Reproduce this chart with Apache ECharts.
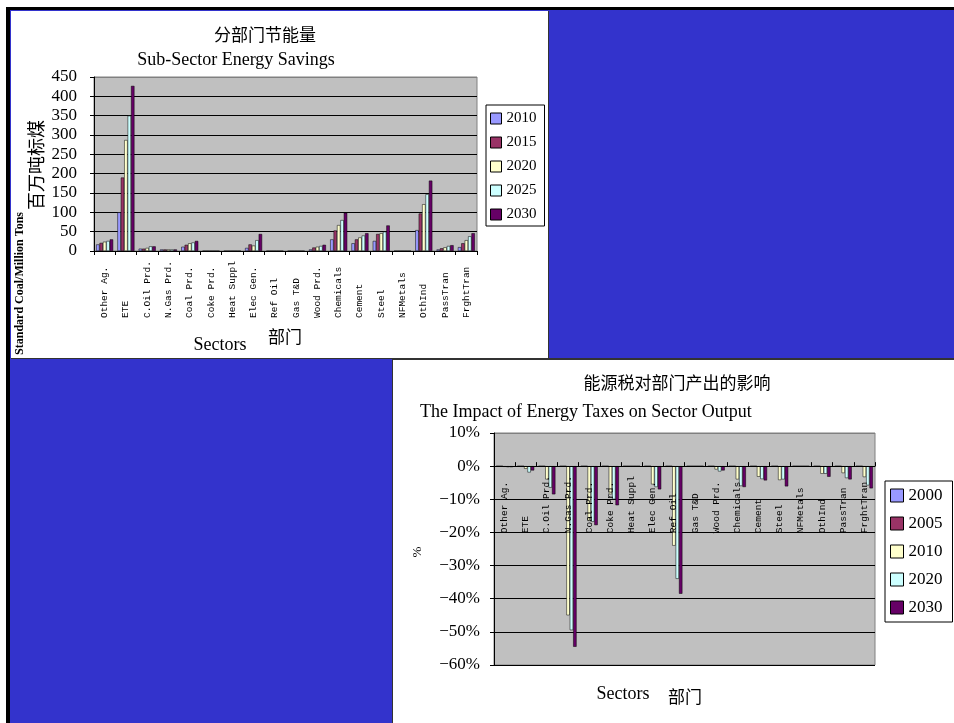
<!DOCTYPE html>
<html>
<head>
<meta charset="utf-8">
<title>分部门节能量 / 能源税对部门产出的影响</title>
<script src="https://cdn.jsdelivr.net/npm/echarts/dist/echarts.min.js"></script>
<style>
  html, body { margin: 0; padding: 0; background: #fff; width: 954px; height: 723px; overflow: hidden; }
  .abs { position: absolute; }
</style>
</head>
<body>
<div class="abs" style="left:6px;top:7px;width:948px;height:716px;background:#000"></div>
<div class="abs" style="left:10px;top:10px;width:944px;height:713px;background:#3333cc"></div>
<div class="abs" style="left:11px;top:11px;width:538px;height:348px;background:#333"></div>
<div id="savings" class="abs" style="left:11px;top:11px;width:537px;height:347px;background:#fff"></div>
<div class="abs" style="left:392px;top:358px;width:562px;height:365px;background:#333"></div>
<div id="impact" class="abs" style="left:393px;top:360px;width:561px;height:363px;background:#fff"></div>

<script>
// ---- shared categories ----
const sectors = ['Other Ag.', 'ETE', 'C.Oil Prd.', 'N.Gas Prd.', 'Coal Prd.', 'Coke Prd.',
  'Heat Suppl', 'Elec Gen.', 'Ref Oil', 'Gas T&D', 'Wood Prd.', 'Chemicals', 'Cement',
  'Steel', 'NFMetals', 'OthInd', 'PassTran', 'FrghtTran'];

// ---- sub-sector energy savings (million tons standard coal) ----
const savingYears = ['2010', '2015', '2020', '2025', '2030'];
const savings2010 = [17, 100, 6, 4, 11, 0, 0, 8, 0, 0, 4, 30, 20, 26, 0, 54, 4, 10];
const savings2015 = [21, 190, 6, 4, 16, 0, 0, 17, 0, 0, 9, 53, 30, 44, 0, 97, 7, 20];
const savings2020 = [24, 287, 8, 4, 20, 0, 0, 14, 0, 0, 11, 67, 35, 46, 0, 121, 9.5, 28];
const savings2025 = [26, 350, 12, 4, 22, 0, 0, 28, 0, 0, 13, 80, 40, 50, 0, 147, 13, 38];
const savings2030 = [30, 427, 12, 4, 26, 0, 0, 44, 0, 0, 16, 99, 46, 66, 0, 182, 15, 46];
const savingTicks = [0, 50, 100, 150, 200, 250, 300, 350, 400, 450];

// ---- impact of energy taxes on sector output (%) ----
const taxYears = ['2000', '2005', '2010', '2020', '2030'];
const impact2000 = [0, 0, 0, 0, 0, 0, 0, 0, 0, 0, 0, 0, 0, 0, 0, 0, 0, 0];
const impact2005 = [0, 0, 0, 0, 0, 0, 0, 0, 0, 0, 0, 0, 0, 0, 0, 0, 0, 0];
const impact2010 = [-0.2, -0.8, -4, -45, -16.5, -8.5, 0, -5.5, -24, 0, -1, -4, -3.2, -4.2, 0, -2.3, -2.1, -3.3];
const impact2020 = [-0.3, -1.9, -6.5, -49.5, -16.8, -10, 0, -6.3, -34, 0, -1.6, -6, -3.9, -4, 0, -2.3, -3.6, -5.8];
const impact2030 = [-0.3, -1.3, -8.5, -54.5, -17.8, -11.8, 0, -7, -38.5, 0, -1.3, -6.3, -4.3, -6.1, 0, -3.2, -4, -6.7];
const impactTicks = [-60, -50, -40, -30, -20, -10, 0, 10];

const palette = ['#9999ff', '#993366', '#ffffcc', '#ccffff', '#660066'];
const SERIF = 'Liberation Serif, Times New Roman, serif';
const MONO = 'Liberation Mono, DejaVu Sans Mono, monospace';
const CJK = 'Noto Sans CJK SC, sans-serif';

function barSeries(names, columns) {
  return names.map((name, i) => ({
    name: name,
    type: 'bar',
    data: columns[i],
    barGap: '0%',
    barCategoryGap: '20%',
    itemStyle: { color: palette[i], borderColor: '#000', borderWidth: 0.5 },
    emphasis: { disabled: true }
  }));
}

function lineColors(n) {
  // black grid lines, top edge gray like the plot border
  const c = [];
  for (let i = 0; i < n; i++) c.push(i === n - 1 ? '#808080' : '#000');
  return c;
}

function sectorAxis(extra) {
  return Object.assign({
    type: 'category',
    data: sectors,
    axisLine: { onZero: false, lineStyle: { color: '#000', width: 1 } },
    axisTick: { show: true, interval: 0, length: 4, lineStyle: { color: '#000' } },
    axisLabel: {
      interval: 0, rotate: 90, align: 'left', verticalAlign: 'middle',
      fontFamily: MONO, fontSize: 9.5, color: '#000', margin: 67
    },
    splitLine: { show: false }
  }, extra || {});
}

// ---------------- Chart 1: energy savings ----------------
const savingsChart = echarts.init(document.getElementById('savings'));
savingsChart.setOption({
  animation: false,
  backgroundColor: '#fff',
  grid: {
    left: 83, top: 66, width: 383, height: 174,
    show: true, backgroundColor: '#c0c0c0', borderColor: '#808080', borderWidth: 1
  },
  legend: {
    data: savingYears,
    orient: 'vertical',
    left: 475, top: 94,
    itemWidth: 11, itemHeight: 11, itemGap: 9,
    icon: 'rect',
    itemStyle: { borderColor: '#000', borderWidth: 1 },
    padding: [6, 8, 4, 4],
    borderColor: '#000', borderWidth: 1,
    backgroundColor: '#fff',
    textStyle: { fontFamily: SERIF, fontSize: 15, color: '#000' },
    selectedMode: false
  },
  xAxis: sectorAxis(),
  yAxis: {
    type: 'value',
    min: savingTicks[0], max: savingTicks[savingTicks.length - 1],
    interval: savingTicks[1] - savingTicks[0],
    axisLine: { show: true, lineStyle: { color: '#000' } },
    axisTick: { show: true, length: 4, lineStyle: { color: '#000' } },
    axisLabel: { fontFamily: SERIF, fontSize: 17, color: '#000', margin: 17 },
    splitLine: { show: true, lineStyle: { color: lineColors(savingTicks.length), width: 1 } }
  },
  series: barSeries(savingYears, [savings2010, savings2015, savings2020, savings2025, savings2030]),
  graphic: [
    { type: 'text', x: 254, y: 24, style: { text: '分部门节能量', font: '17px ' + CJK, fill: '#000', align: 'center', verticalAlign: 'middle' } },
    { type: 'text', x: 225, y: 49, style: { text: 'Sub-Sector Energy Savings', font: '18px ' + SERIF, fill: '#000', align: 'center', verticalAlign: 'middle' } },
    { type: 'text', x: 209, y: 334, style: { text: 'Sectors', font: '18px ' + SERIF, fill: '#000', align: 'center', verticalAlign: 'middle' } },
    { type: 'text', x: 274, y: 326, style: { text: '部门', font: '17px ' + CJK, fill: '#000', align: 'center', verticalAlign: 'middle' } },
    { type: 'text', x: 25, y: 109, rotation: Math.PI / 2, style: { text: '百万吨标煤', font: '18px ' + CJK, fill: '#000', align: 'right', verticalAlign: 'middle' } },
    { type: 'text', x: 9, y: 201, rotation: Math.PI / 2, style: { text: 'Standard Coal/Million Tons', font: 'bold 12px ' + SERIF, fill: '#000', align: 'right', verticalAlign: 'middle' } }
  ]
});

// ---------------- Chart 2: energy tax impact ----------------
// the category axis sits on the 0% line: shift it up from the plot bottom
const impactGridHeight = 232;
const zeroOffset = impactGridHeight * (0 - impactTicks[0]) / (impactTicks[impactTicks.length - 1] - impactTicks[0]);

const impactChart = echarts.init(document.getElementById('impact'));
impactChart.setOption({
  animation: false,
  backgroundColor: '#fff',
  grid: {
    left: 101, top: 73, width: 381, height: impactGridHeight,
    show: true, backgroundColor: '#c0c0c0', borderColor: '#808080', borderWidth: 1
  },
  legend: {
    data: taxYears,
    orient: 'vertical',
    left: 492, top: 121,
    itemWidth: 13, itemHeight: 13, itemGap: 11,
    icon: 'rect',
    itemStyle: { borderColor: '#000', borderWidth: 1 },
    padding: [6, 10, 6, 5],
    borderColor: '#000', borderWidth: 1,
    backgroundColor: '#fff',
    textStyle: { fontFamily: SERIF, fontSize: 17, color: '#000' },
    selectedMode: false
  },
  xAxis: sectorAxis({
    z: 10,
    position: 'bottom',
    offset: -zeroOffset,
    axisTick: { show: true, inside: true, interval: 0, length: 4, lineStyle: { color: '#000' } }
  }),
  yAxis: {
    type: 'value',
    min: impactTicks[0], max: impactTicks[impactTicks.length - 1],
    interval: impactTicks[1] - impactTicks[0],
    axisLine: { show: true, lineStyle: { color: '#000' } },
    axisTick: { show: true, length: 4, lineStyle: { color: '#000' } },
    axisLabel: {
      fontFamily: SERIF, fontSize: 17, color: '#000', margin: 14,
      formatter: v => (v < 0 ? '\u2212' + (-v) : String(v)) + '%'
    },
    splitLine: { show: true, lineStyle: { color: lineColors(impactTicks.length), width: 1 } }
  },
  series: barSeries(taxYears, [impact2000, impact2005, impact2010, impact2020, impact2030]),
  graphic: [
    { type: 'text', x: 284, y: 23, style: { text: '能源税对部门产出的影响', font: '17px ' + CJK, fill: '#000', align: 'center', verticalAlign: 'middle' } },
    { type: 'text', x: 27, y: 52, style: { text: 'The Impact of Energy Taxes on Sector Output', font: '18px ' + SERIF, fill: '#000', align: 'left', verticalAlign: 'middle' } },
    { type: 'text', x: 25, y: 192, rotation: Math.PI / 2, style: { text: '%', font: '13px ' + SERIF, fill: '#000', align: 'center', verticalAlign: 'middle' } },
    { type: 'text', x: 230, y: 334, style: { text: 'Sectors', font: '18px ' + SERIF, fill: '#000', align: 'center', verticalAlign: 'middle' } },
    { type: 'text', x: 292, y: 337, style: { text: '部门', font: '17px ' + CJK, fill: '#000', align: 'center', verticalAlign: 'middle' } }
  ]
});
</script>
</body>
</html>
